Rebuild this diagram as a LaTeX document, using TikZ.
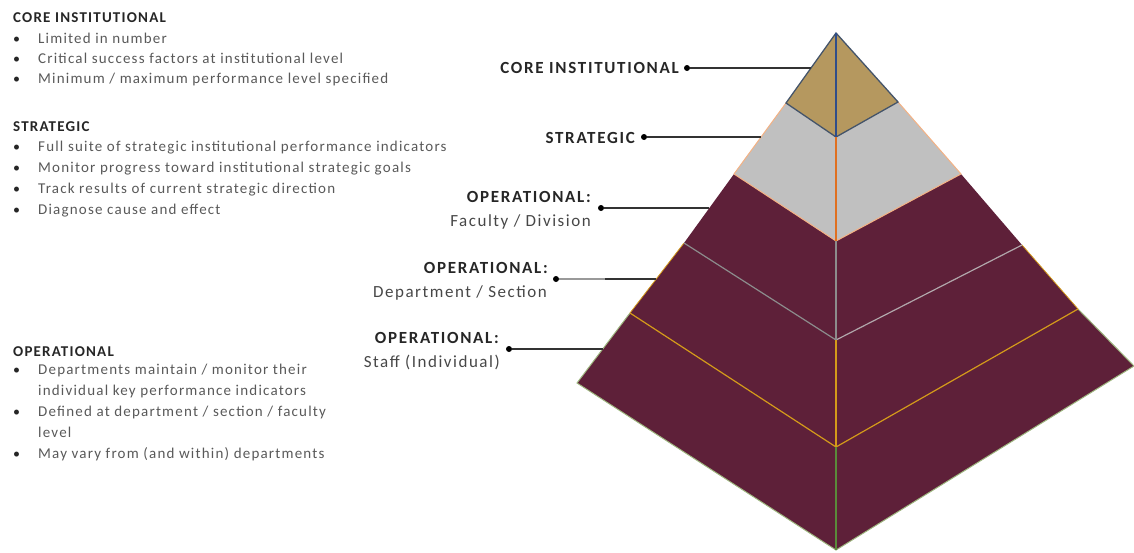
\documentclass[tikz,border=0pt]{standalone}
\usepackage{fontspec}
\setmainfont{Carlito}
\definecolor{tan}{HTML}{B5985F}
\definecolor{strat}{HTML}{C0C0C0}
\definecolor{maroon}{HTML}{5E2039}
\definecolor{bodytxt}{HTML}{595959}
\definecolor{headtxt}{HTML}{262626}
\definecolor{slate}{HTML}{44546A}
\definecolor{corev}{HTML}{2F4D8A}
\definecolor{lorange}{HTML}{F4B183}
\definecolor{dorange}{HTML}{E07020}
\definecolor{gline}{HTML}{8C8C8C}
\definecolor{gold}{HTML}{D49A1A}
\definecolor{lgreen}{HTML}{9DB57E}
\definecolor{dgreen}{HTML}{5A8A3A}
\tikzset{
  head/.style={anchor=base west, inner sep=0pt, font=\fontsize{15}{18}\selectfont\bfseries\addfontfeatures{LetterSpace=8}, text=headtxt},
  body/.style={anchor=base west, inner sep=0pt, font=\fontsize{15}{18}\selectfont\addfontfeatures{LetterSpace=8}, text=bodytxt},
  bul/.style={anchor=base west, inner sep=0pt, font=\fontsize{14}{16}\selectfont, text=headtxt},
  lab/.style={anchor=base east, inner sep=0pt, font=\fontsize{17}{20}\selectfont\bfseries\addfontfeatures{LetterSpace=10}, text=headtxt},
  sublab/.style={anchor=base east, inner sep=0pt, font=\fontsize{17}{20}\selectfont\addfontfeatures{LetterSpace=9}, text=headtxt!85},
  dot/.style={circle, fill=black, inner sep=0pt, minimum size=6pt},
  conn/.style={draw=black!80, line width=1.3pt},
}
\begin{document}
\begin{tikzpicture}[x=1pt,y=-1pt]
\useasboundingbox (0,0) rectangle (1134,552);
% pyramid corners
\coordinate (A) at (836,33);
\coordinate (CL) at (786,103); \coordinate (CB) at (836,137); \coordinate (CR) at (898,102);
\coordinate (SL) at (734,174); \coordinate (SB) at (836,241); \coordinate (SR) at (961,174);
\coordinate (GL) at (684,243); \coordinate (GB) at (836,340); \coordinate (GR) at (1022,245);
\coordinate (OL) at (630,313); \coordinate (OB) at (836,447); \coordinate (OR) at (1078,309);
\coordinate (BL) at (577,383); \coordinate (BB) at (836,550); \coordinate (BR) at (1134,366);
% layers
\fill[maroon] (OL) -- (BL) -- (BB) -- (BR) -- (OR) -- (OB) -- cycle;
\fill[maroon] (GL) -- (OL) -- (OB) -- (OR) -- (GR) -- (GB) -- cycle;
\fill[maroon] (SL) -- (GL) -- (GB) -- (GR) -- (SR) -- (SB) -- cycle;
\fill[strat] (CL) -- (SL) -- (SB) -- (SR) -- (CR) -- (CB) -- cycle;
\fill[tan] (A) -- (CL) -- (CB) -- (CR) -- cycle;
% edges
\draw[lgreen, line width=1pt] (OL) -- (BL) -- (BB) -- (BR) -- (OR);
\draw[gold, line width=0.8pt] (GL) -- (OL);
\draw[gold, line width=0.8pt] (GR) -- (OR);
\draw[gold, line width=1.2pt] (OL) -- (OB) -- (OR);
\draw[gline, line width=1.2pt] (GL) -- (GB);
\draw[black!25!white!85!maroon, line width=1.2pt] (GB) -- (GR);
\draw[lorange, line width=1pt] (CL) -- (SL) -- (SB) -- (SR) -- (CR);
\draw[slate, line width=1.3pt] (A) -- (CL) -- (CB) -- (CR) -- cycle;
\draw[corev, line width=1.2pt] (A) -- (CB);
\draw[dorange, line width=1.2pt] (CB) -- (SB);
\draw[gline, line width=1.2pt] (SB) -- (GB);
\draw[gold, line width=1.2pt] (GB) -- (OB);
\draw[dgreen, line width=1.2pt] (OB) -- (BB);
% right labels
\node[lab] (l1) at (679,73) {CORE INSTITUTIONAL};
\node[dot] (d1) at (687,68) {};
\coordinate (e1) at (811,68);
\draw[conn] (d1) -- (e1);
\node[lab] (l2) at (635,143) {STRATEGIC};
\node[dot] (d2) at (644,137) {};
\coordinate (e2) at (761,137);
\draw[conn] (d2) -- (e2);
\node[lab] (l3) at (591,202) {OPERATIONAL:};
\node[sublab] (s3) at (591,226) {Faculty / Division};
\node[dot] (d3) at (601,208) {};
\coordinate (e3) at (709,208);
\draw[conn] (d3) -- (e3);
\node[lab] (l4) at (548,273) {OPERATIONAL:};
\node[sublab] (s4) at (547,297) {Department / Section};
\node[dot] (d4) at (556,279) {};
\coordinate (m4) at (605,279);
\coordinate (e4) at (656,279);
\draw[conn, draw=black!40] (d4) -- (m4);
\draw[conn] (m4) -- (e4);
\node[lab] (l5) at (499,343) {OPERATIONAL:};
\node[sublab] (s5) at (500,367) {Staff (Individual)};
\node[dot] (d5) at (509,349) {};
\coordinate (e5) at (603,349);
\draw[conn] (d5) -- (e5);
% left text
\node[head] (h1) at (13,22) {CORE INSTITUTIONAL};
\foreach \y/\t [count=\i] in {43/{Limited in number}, 63/{Critical success factors at institutional level}, 83/{Minimum / maximum performance level specified}}{
  \node[bul] (c\i b) at (13,\y) {\textbullet};
  \node[body] (c\i) at (38,\y) {\t};
}
\node[head] (h2) at (13,131) {STRATEGIC};
\foreach \y/\t [count=\i] in {151/{Full suite of strategic institutional performance indicators}, 172/{Monitor progress toward institutional strategic goals}, 193/{Track results of current strategic direction}, 214/{Diagnose cause and effect}}{
  \node[bul] (s\i b) at (13,\y) {\textbullet};
  \node[body] (s\i) at (38,\y) {\t};
}
\node[head] (h3) at (13,356) {OPERATIONAL};
\node[bul] (o1b) at (13,374) {\textbullet};
\node[body] (o1) at (38,374) {Departments maintain / monitor their};
\node[body] (o1c) at (38,395) {individual key performance indicators};
\node[bul] (o2b) at (13,416) {\textbullet};
\node[body] (o2) at (38,416) {Defined at department / section / faculty};
\node[body] (o2c) at (38,437) {level};
\node[bul] (o3b) at (13,458) {\textbullet};
\node[body] (o3) at (38,458) {May vary from (and within) departments};
\end{tikzpicture}
\end{document}
